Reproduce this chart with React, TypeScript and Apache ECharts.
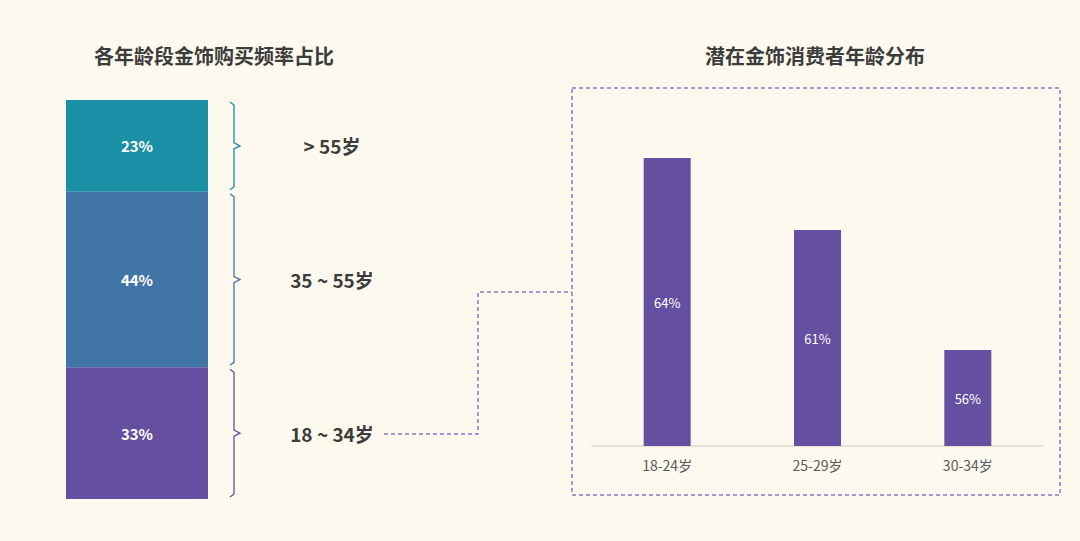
import { useEffect, useRef } from "react";
import * as echarts from "echarts";

// left: share of gold jewellery purchases by age group (bottom to top)
const groupNames = ["18 ~ 34岁", "35 ~ 55岁", "> 55岁"];
const groupShares = [33, 44, 23];
const groupColors = ["#654fa0", "#4174a6", "#1a8fa6"];

// right: potential consumers by age band
const bandNames = ["18-24岁", "25-29岁", "30-34岁"];
const bandShares = [64, 61, 56];

const FONT = "'Noto Sans CJK SC', 'Noto Sans', sans-serif";
const DASH_COLOR = "#8a78c2";

export default function App() {
	const chartElementRef = useRef<HTMLDivElement | null>(null);

	useEffect(() => {
		if (!chartElementRef.current) return;
		const chart = echarts.init(chartElementRef.current, undefined, { renderer: "svg" });

		// cumulative ranges for the braces
		let acc = 0;
		const braceData = groupShares.map((v, i) => {
			const start = acc;
			acc += v;
			return [0, start, acc, i];
		});

		const option: echarts.EChartsOption = {
			animation: false,
			backgroundColor: "#fdf9ee",
			textStyle: { fontFamily: FONT },
			title: [
				{
					text: "各年龄段金饰购买频率占比",
					left: 89,
					top: 40,
					textStyle: { fontSize: 20, fontWeight: "bold", color: "#3c3c3c", fontFamily: FONT },
				},
				{
					text: "潜在金饰消费者年龄分布",
					left: 700,
					top: 40,
					textStyle: { fontSize: 20, fontWeight: "bold", color: "#3c3c3c", fontFamily: FONT },
				},
			],
			grid: [
				{ left: 66, top: 100, width: 142, height: 399 },
				{ left: 592, top: 110, width: 451, bottom: 95 },
			],
			xAxis: [
				{
					gridIndex: 0,
					type: "category",
					data: ["all"],
					show: false,
				},
				{
					gridIndex: 1,
					type: "category",
					data: bandNames,
					axisLine: { lineStyle: { color: "#e6e1d8", width: 2 } },
					axisTick: { show: false },
					axisLabel: { color: "#5a5a5a", fontSize: 14, margin: 12, fontFamily: FONT },
				},
			],
			yAxis: [
				{ gridIndex: 0, type: "value", min: 0, max: 100, show: false },
				{ gridIndex: 1, type: "value", min: 52, max: 66, show: false },
			],
			series: [
				...groupShares.map((v, i) => ({
					name: groupNames[i],
					type: "bar" as const,
					xAxisIndex: 0,
					yAxisIndex: 0,
					stack: "total",
					barWidth: "100%",
					data: [v],
					itemStyle: { color: groupColors[i] },
					label: {
						show: true,
						position: "inside" as const,
						formatter: "{c}%",
						color: "#fff",
						fontSize: 15,
						fontWeight: "bold" as const,
						fontFamily: FONT,
					},
				})),
				{
					type: "custom",
					xAxisIndex: 0,
					yAxisIndex: 0,
					data: braceData,
					renderItem: (params: any, api: any) => {
						const cs = params.coordSys;
						const yTop = api.coord([0, api.value(2)])[1] + 2;
						const yBot = api.coord([0, api.value(1)])[1] - 2;
						const idx = api.value(3);
						const color = groupColors[idx];
						const x0 = cs.x + cs.width + 22;
						const x1 = x0 + 4;
						const mid = (yTop + yBot) / 2;
						return {
							type: "group",
							children: [
								{
									type: "polyline",
									shape: {
										points: [
											[x0, yTop],
											[x1, yTop + 3],
											[x1, mid - 3],
											[x1 + 6, mid],
											[x1, mid + 3],
											[x1, yBot - 3],
											[x0, yBot],
										],
									},
									style: { stroke: color, lineWidth: 1.3, fill: "none" },
								},
								{
									type: "text",
									x: x0 + 102,
									y: mid,
									style: {
										text: groupNames[idx],
										fill: "#3c3c3c",
										font: `bold 19px ${FONT}`,
										align: "center",
										verticalAlign: "middle",
									},
								},
							],
						};
					},
				},
				{
					type: "bar",
					xAxisIndex: 1,
					yAxisIndex: 1,
					barWidth: 47,
					data: bandShares,
					itemStyle: { color: "#654fa0" },
					label: {
						show: true,
						position: "inside",
						formatter: "{c}%",
						color: "#fff",
						fontSize: 13,
						fontFamily: FONT,
					},
				},
			],
			graphic: [
				{
					type: "rect",
					shape: { x: 572, y: 88, width: 488, height: 407 },
					style: { fill: "none", stroke: DASH_COLOR, lineWidth: 1.5, lineDash: [4, 3] },
				},
				{
					type: "polyline",
					shape: {
						points: [
							[384, 434],
							[478, 434],
							[478, 292],
							[572, 292],
						],
					},
					style: { fill: "none", stroke: DASH_COLOR, lineWidth: 1.5, lineDash: [4, 3] },
				},
			],
		};

		chart.setOption(option);
		return () => chart.dispose();
	}, []);

	return (
		<div
			ref={chartElementRef}
			style={{ position: "fixed", left: 0, top: 0, width: 1080, height: 541 }}
		/>
	);
}
